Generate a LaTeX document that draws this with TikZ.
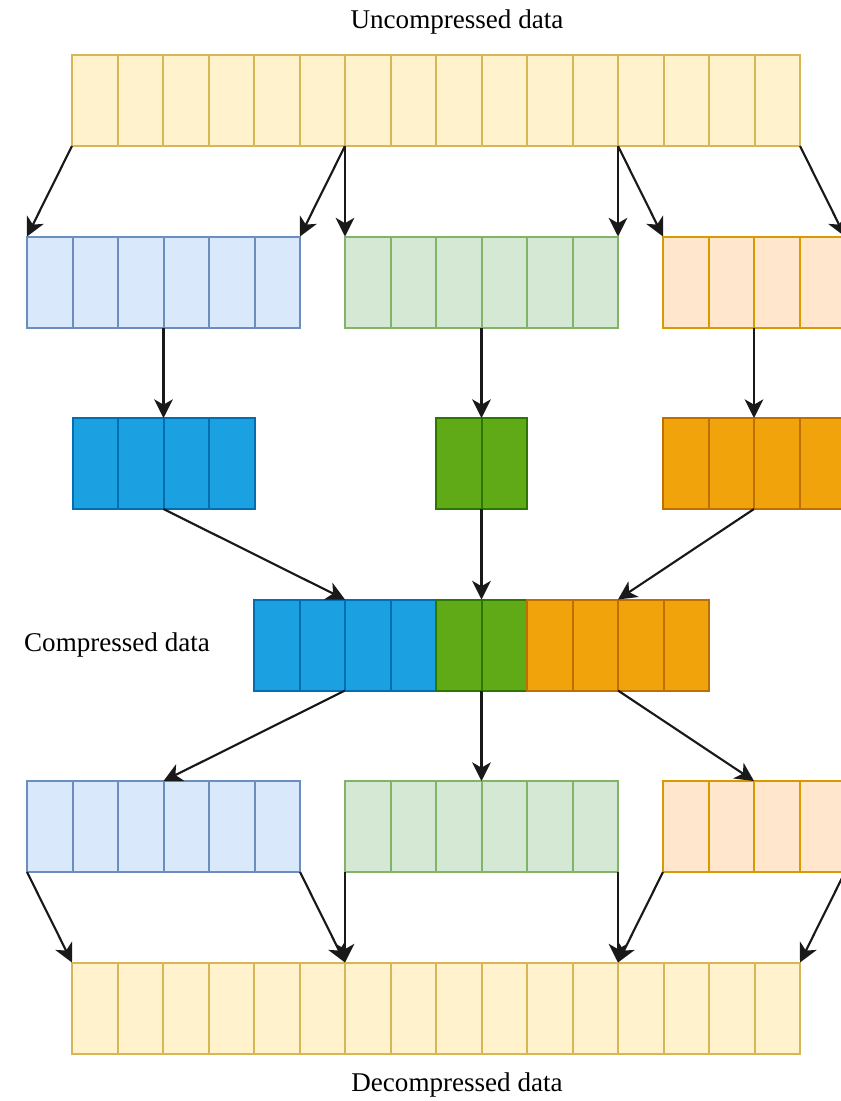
\documentclass[tikz,border=0pt]{standalone}
\usepackage{fontspec}
\setmainfont{Liberation Serif}
\usetikzlibrary{arrows.meta}

\definecolor{yfill}{HTML}{FFF2CC}\definecolor{ystroke}{HTML}{D6B656}
\definecolor{bfill}{HTML}{DAE8FC}\definecolor{bstroke}{HTML}{6C8EBF}
\definecolor{gfill}{HTML}{D5E8D4}\definecolor{gstroke}{HTML}{82B366}
\definecolor{ofill}{HTML}{FFE6CC}\definecolor{ostroke}{HTML}{D79B00}
\definecolor{bdark}{HTML}{1BA1E2}\definecolor{bdarkline}{HTML}{006EAF}
\definecolor{gdark}{HTML}{60A917}\definecolor{gdarkline}{HTML}{2D7600}
\definecolor{odark}{HTML}{F0A30A}\definecolor{odarkline}{HTML}{BD7000}

\tikzset{
  cell/.style={draw, line width=1.5pt, minimum width=34.125pt, minimum height=68.25pt,
    inner sep=0pt, outer sep=0pt, anchor=north west},
  ycell/.style={cell, draw=ystroke, fill=yfill},
  bcell/.style={cell, draw=bstroke, fill=bfill},
  gcell/.style={cell, draw=gstroke, fill=gfill},
  ocell/.style={cell, draw=ostroke, fill=ofill},
  bpack/.style={cell, draw=bdarkline, fill=bdark},
  gpack/.style={cell, draw=gdarkline, fill=gdark},
  opack/.style={cell, draw=odarkline, fill=odark},
  lbl/.style={inner sep=0.75pt, font=\fontsize{20.3}{24}\selectfont},
  link/.style={-{Stealth[length=14pt,width=14pt,inset=4pt]}, line width=1.6pt, draw=black!90}
}

\begin{document}
\begin{tikzpicture}[x=0.75pt,y=0.75pt,yscale=-1,xscale=1]
\useasboundingbox (0,0) rectangle (841,1101);

% Text Node
\node[lbl] (unc) at (457,22) {Uncompressed data};
% Text Node
\node[lbl] (cmp) at (117,645) {Compressed data};
% Text Node
\node[lbl] (dec) at (457,1085) {Decompressed data};

%Uncompressed blocks
\foreach \i in {1,...,16}
  \node[ycell] (u\i) at ({72+(\i-1)*45.5},55) {};

%Split blocks
\foreach \i in {1,...,6} {
  \node[bcell] (b\i) at ({27+(\i-1)*45.5},236.5) {};
  \node[gcell] (g\i) at ({345+(\i-1)*45.5},236.5) {};
}
\foreach \i in {1,...,4}
  \node[ocell] (o\i) at ({663+(\i-1)*45.5},236.5) {};

%Compressed parts
\foreach \i in {1,...,4} {
  \node[bpack] (bc\i) at ({72.5+(\i-1)*45.5},418) {};
  \node[opack] (oc\i) at ({663+(\i-1)*45.5},418) {};
}
\foreach \i in {1,2}
  \node[gpack] (gc\i) at ({436+(\i-1)*45.5},418) {};

%Compressed data
\foreach \i in {1,...,4}
  \node[bpack] (c\i) at ({254+(\i-1)*45.5},599.5) {};
\foreach \i in {5,6}
  \node[gpack] (c\i) at ({254+(\i-1)*45.5},599.5) {};
\foreach \i in {7,...,10}
  \node[opack] (c\i) at ({254+(\i-1)*45.5},599.5) {};

%Decompressed parts
\foreach \i in {1,...,6} {
  \node[bcell] (bd\i) at ({27+(\i-1)*45.5},781) {};
  \node[gcell] (gd\i) at ({345+(\i-1)*45.5},781) {};
}
\foreach \i in {1,...,4}
  \node[ocell] (od\i) at ({663+(\i-1)*45.5},781) {};

%Decompressed blocks
\foreach \i in {1,...,16}
  \node[ycell] (d\i) at ({72+(\i-1)*45.5},962.5) {};

%Straight Lines
\draw[link] (u1.south west) -- (b1.north west);
\draw[link] (u6.south east) -- (b6.north east);
\draw[link] (u6.south east) -- (g1.north west);
\draw[link] (u12.south east) -- (g6.north east);
\draw[link] (u12.south east) -- (o1.north west);
\draw[link] (u16.south east) -- (o4.north east);
%Straight Lines
\draw[link] (b3.south east) -- (bc2.north east);
\draw[link] (g3.south east) -- (gc1.north east);
\draw[link] (o2.south east) -- (oc2.north east);
%Straight Lines
\draw[link] (bc2.south east) -- (c2.north east);
\draw[link] (gc1.south east) -- (c5.north east);
\draw[link] (oc2.south east) -- (c8.north east);
%Straight Lines
\draw[link] (c2.south east) -- (bd3.north east);
\draw[link] (c5.south east) -- (gd3.north east);
\draw[link] (c8.south east) -- (od2.north east);
%Straight Lines
\draw[link] (bd1.south west) -- (d1.north west);
\draw[link] (bd6.south east) -- (d6.north east);
\draw[link] (gd1.south west) -- (d6.north east);
\draw[link] (gd6.south east) -- (d12.north east);
\draw[link] (od1.south west) -- (d12.north east);
\draw[link] (od4.south east) -- (d16.north east);

\end{tikzpicture}
\end{document}
